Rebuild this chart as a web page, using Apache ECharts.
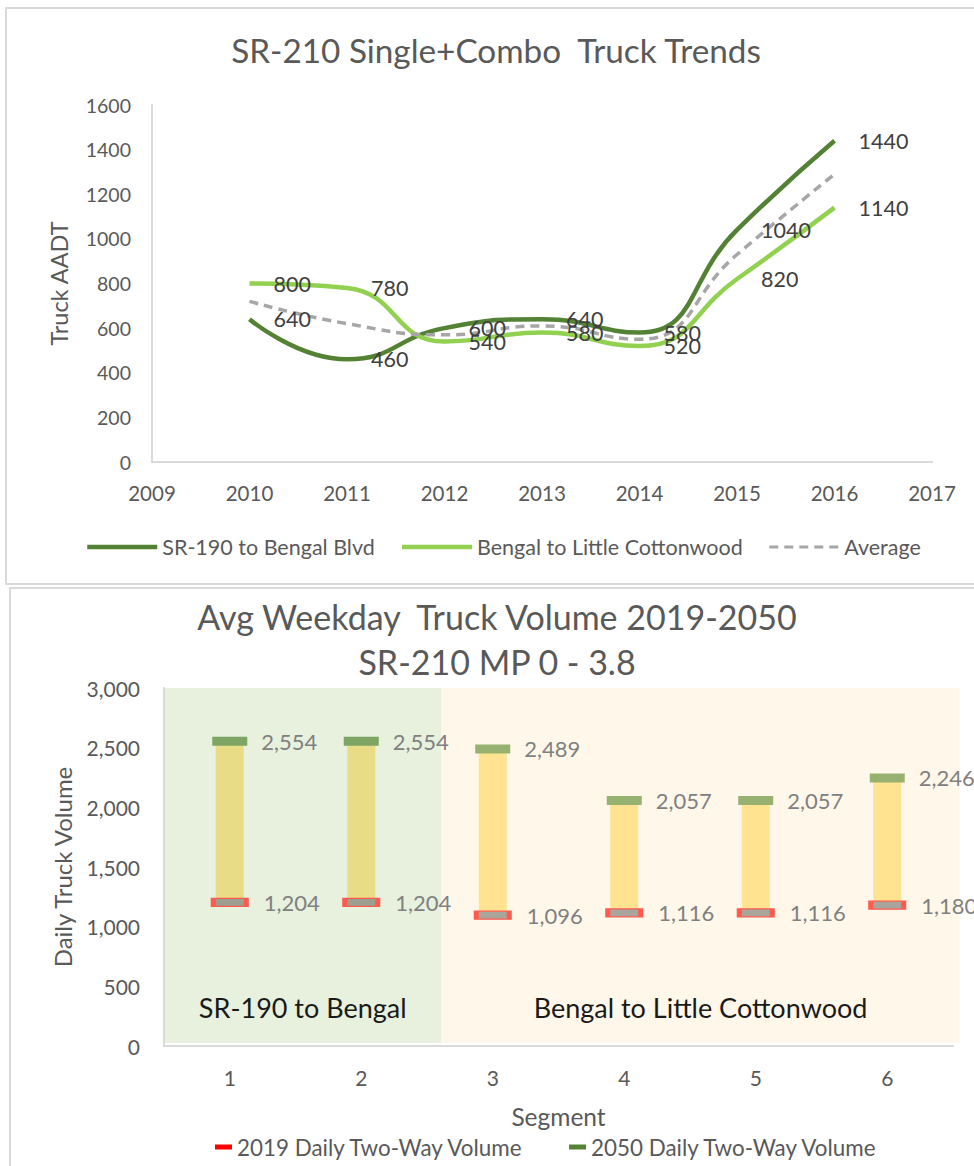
<!DOCTYPE html>
<html><head><meta charset="utf-8">
<script src="https://cdn.jsdelivr.net/npm/echarts@6/dist/echarts.min.js"></script>
<style>
html,body{margin:0;padding:0;background:#fff;overflow:hidden;width:974px;height:1166px;}
#p1{position:absolute;left:5px;top:7px;width:1000px;height:578px;border:2px solid #d9d9d9;box-sizing:border-box;}
#p2{position:absolute;left:9px;top:587px;width:1000px;height:620px;border:2px solid #d9d9d9;box-sizing:border-box;}
#chart{position:absolute;left:0;top:0;width:974px;height:1166px;}
</style></head><body>
<div id="p1"></div><div id="p2"></div><div id="chart"></div>
<script>
// ---- Top chart data ----
const years = [2010, 2011, 2012, 2013, 2014, 2015, 2016];
const sr190ToBengal = [640, 460, 600, 640, 580, 1040, 1440];
const bengalToLittleCottonwood = [800, 780, 540, 580, 520, 820, 1140];
const averageTrend = [720, 620, 570, 610, 550, 930, 1290];
const topSeriesNames = ['SR-190 to Bengal Blvd', 'Bengal to Little Cottonwood', 'Average'];

// ---- Bottom chart data ----
const segments = ['1', '2', '3', '4', '5', '6'];
const volume2019 = [1204, 1204, 1096, 1116, 1116, 1180];
const volume2050 = [2554, 2554, 2489, 2057, 2057, 2246];
const segmentGroupIndex = [0, 0, 1, 1, 1, 1];
const groupNames = ['SR-190 to Bengal', 'Bengal to Little Cottonwood'];
const groupFrom = [0.5, 2.61];
const groupTo = [2.61, 6.55];
const bottomSeriesNames = ['2019 Daily Two-Way Volume', '2050 Daily Two-Way Volume'];

// ---- styles ----
const FONT = 'Lato, "Open Sans", sans-serif';
const groupBg = ['#e7f1de', '#fff8ea'];
const barFill = ['#e8dc86', '#ffe390'];
const top2050 = ['#7ea563', '#97b171'];
const fill2019 = ['#9e9e90', '#a9a59c'];
const gray = '#595959';

const chart = echarts.init(document.getElementById('chart'), null, {renderer: 'svg'});
const fmtComma = v => Number(v).toLocaleString('en-US');

const option = {
  animation: false,
  textStyle: {fontFamily: FONT},
  title: [
    {text: 'SR-210 Single+Combo  Truck Trends', left: 496, textAlign: 'center', top: 33, padding: 0,
     textStyle: {fontSize: 33.3, fontWeight: 'normal', color: gray, fontFamily: FONT}},
    {text: 'Avg Weekday  Truck Volume 2019-2050\nSR-210 MP 0 - 3.8', left: 497, textAlign: 'center', top: 594, padding: 0,
     textStyle: {fontSize: 34, fontWeight: 'normal', color: gray, lineHeight: 45, fontFamily: FONT}}
  ],
  legend: [
    {top: 531, left: 80, itemWidth: 70, itemHeight: 14, itemGap: 25,
     textStyle: {fontSize: 21.5, color: gray, fontFamily: FONT},
     data: [
       {name: topSeriesNames[0], lineStyle: {width: 4.5}},
       {name: topSeriesNames[1], lineStyle: {width: 4.5}},
       {name: topSeriesNames[2], lineStyle: {width: 3}}
     ]},
    {top: 1131, left: 210, itemWidth: 17, itemHeight: 5, itemGap: 45, icon: 'rect',
     textStyle: {fontSize: 22.4, color: gray, fontFamily: FONT},
     data: [
       {name: bottomSeriesNames[0], itemStyle: {color: '#ff0000', borderWidth: 0}},
       {name: bottomSeriesNames[1], itemStyle: {color: '#548235', borderWidth: 0}}
     ]}
  ],
  grid: [
    {left: 152, right: 42, top: 105, height: 357},
    {left: 164, right: 21, top: 688, height: 358}
  ],
  xAxis: [
    {type: 'value', gridIndex: 0, min: 2009, max: 2017, interval: 1,
     axisLine: {show: true, lineStyle: {color: '#d9d9d9', width: 2}},
     axisTick: {show: false}, splitLine: {show: false},
     axisLabel: {fontSize: 20.5, color: gray, margin: 20, formatter: v => String(v)}},
    {type: 'category', gridIndex: 1, data: segments, boundaryGap: true,
     axisLine: {show: true, lineStyle: {color: '#d9d9d9', width: 2}},
     axisTick: {show: false},
     axisLabel: {fontSize: 21, color: gray, margin: 21},
     name: 'Segment', nameLocation: 'middle', nameGap: 58,
     nameTextStyle: {fontSize: 24.5, color: gray}},
    {type: 'value', gridIndex: 1, min: 0.5, max: 6.5, show: false}
  ],
  yAxis: [
    {type: 'value', gridIndex: 0, min: 0, max: 1600, interval: 200,
     axisLine: {show: true, lineStyle: {color: '#d9d9d9', width: 2}},
     axisTick: {show: false}, splitLine: {show: false},
     axisLabel: {fontSize: 19.5, color: gray, margin: 21, formatter: v => String(v)},
     name: 'Truck AADT', nameLocation: 'middle', nameGap: 81,
     nameTextStyle: {fontSize: 23.5, color: gray}},
    {type: 'value', gridIndex: 1, min: 0, max: 3000, interval: 500,
     axisLine: {show: true, lineStyle: {color: '#d9d9d9', width: 2}},
     axisTick: {show: false}, splitLine: {show: false},
     axisLabel: {fontSize: 21, color: gray, margin: 24, formatter: fmtComma},
     name: 'Daily Truck Volume', nameLocation: 'middle', nameGap: 90,
     nameTextStyle: {fontSize: 24, color: gray}}
  ],
  series: [
    {name: topSeriesNames[0], type: 'line', xAxisIndex: 0, yAxisIndex: 0, smooth: 0.5,
     data: years.map((y, i) => [y, sr190ToBengal[i]]),
     symbol: 'circle', symbolSize: 2, itemStyle: {color: 'rgba(0,0,0,0)'},
     lineStyle: {color: '#548235', width: 4.5},
     label: {show: true, position: 'right', distance: 23, fontSize: 21.5, color: '#404040', formatter: p => p.value[1]}},
    {name: topSeriesNames[1], type: 'line', xAxisIndex: 0, yAxisIndex: 0, smooth: 0.5,
     data: years.map((y, i) => [y, bengalToLittleCottonwood[i]]),
     symbol: 'circle', symbolSize: 2, itemStyle: {color: 'rgba(0,0,0,0)'},
     lineStyle: {color: '#92d050', width: 4.5},
     label: {show: true, position: 'right', distance: 23, fontSize: 21.5, color: '#404040', formatter: p => p.value[1]}},
    {name: topSeriesNames[2], type: 'line', xAxisIndex: 0, yAxisIndex: 0, smooth: 0.5,
     data: years.map((y, i) => [y, averageTrend[i]]),
     symbol: 'circle', symbolSize: 2, itemStyle: {color: 'rgba(0,0,0,0)'},
     lineStyle: {color: '#a6a6a6', width: 3.5, type: [9, 6]}},
    // backgrounds
    {type: 'custom', xAxisIndex: 2, yAxisIndex: 1, silent: true, z: 0, clip: false,
     data: groupNames.map((n, i) => [groupFrom[i], groupTo[i]]),
     renderItem: (params, api) => {
       const i = params.dataIndex;
       const p0 = api.coord([api.value(0), 3000]);
       const p1 = api.coord([api.value(1), 0]);
       return {type: 'group', children: [
         {type: 'rect', shape: {x: p0[0], y: p0[1], width: p1[0] - p0[0], height: p1[1] - p0[1] - 3},
          style: {fill: groupBg[i]}},
         {type: 'text', x: (p0[0] + p1[0]) / 2, y: p1[1] - 39,
          style: {text: groupNames[i], align: 'center', verticalAlign: 'middle', fontSize: 27, fill: '#1a1a1a', fontFamily: FONT}}
       ]};
     }},
    // floating bars
    {type: 'custom', xAxisIndex: 1, yAxisIndex: 1, silent: true, z: 2,
     data: segments.map((s, i) => [i, volume2019[i], volume2050[i], segmentGroupIndex[i]]),
     renderItem: (params, api) => {
       const lo = api.coord([api.value(0), api.value(1)]);
       const hi = api.coord([api.value(0), api.value(2)]);
       const w = 28;
       return {type: 'rect', shape: {x: lo[0] - w / 2, y: hi[1], width: w, height: lo[1] - hi[1]},
               style: {fill: barFill[api.value(3)]}};
     }},
    {name: bottomSeriesNames[0], type: 'scatter', xAxisIndex: 1, yAxisIndex: 1, z: 3,
     symbol: 'rect', symbolSize: [33, 8],
     data: volume2019.map((v, i) => ({value: v, itemStyle: {color: fill2019[segmentGroupIndex[i]]}})),
     itemStyle: {borderColor: '#ff5a4e', borderWidth: 2.5, opacity: 1},
     label: {show: true, position: 'right', distance: 15, fontSize: 22, color: '#808080', formatter: p => fmtComma(p.value)}},
    {name: bottomSeriesNames[1], type: 'scatter', xAxisIndex: 1, yAxisIndex: 1, z: 3,
     symbol: 'rect', symbolSize: [35, 9],
     data: volume2050.map((v, i) => ({value: v, itemStyle: {color: top2050[segmentGroupIndex[i]]}})),
     itemStyle: {opacity: 1},
     label: {show: true, position: 'right', distance: 14, fontSize: 22, color: '#808080', formatter: p => fmtComma(p.value)}}
  ]
};
chart.setOption(option);
</script>
</body></html>
